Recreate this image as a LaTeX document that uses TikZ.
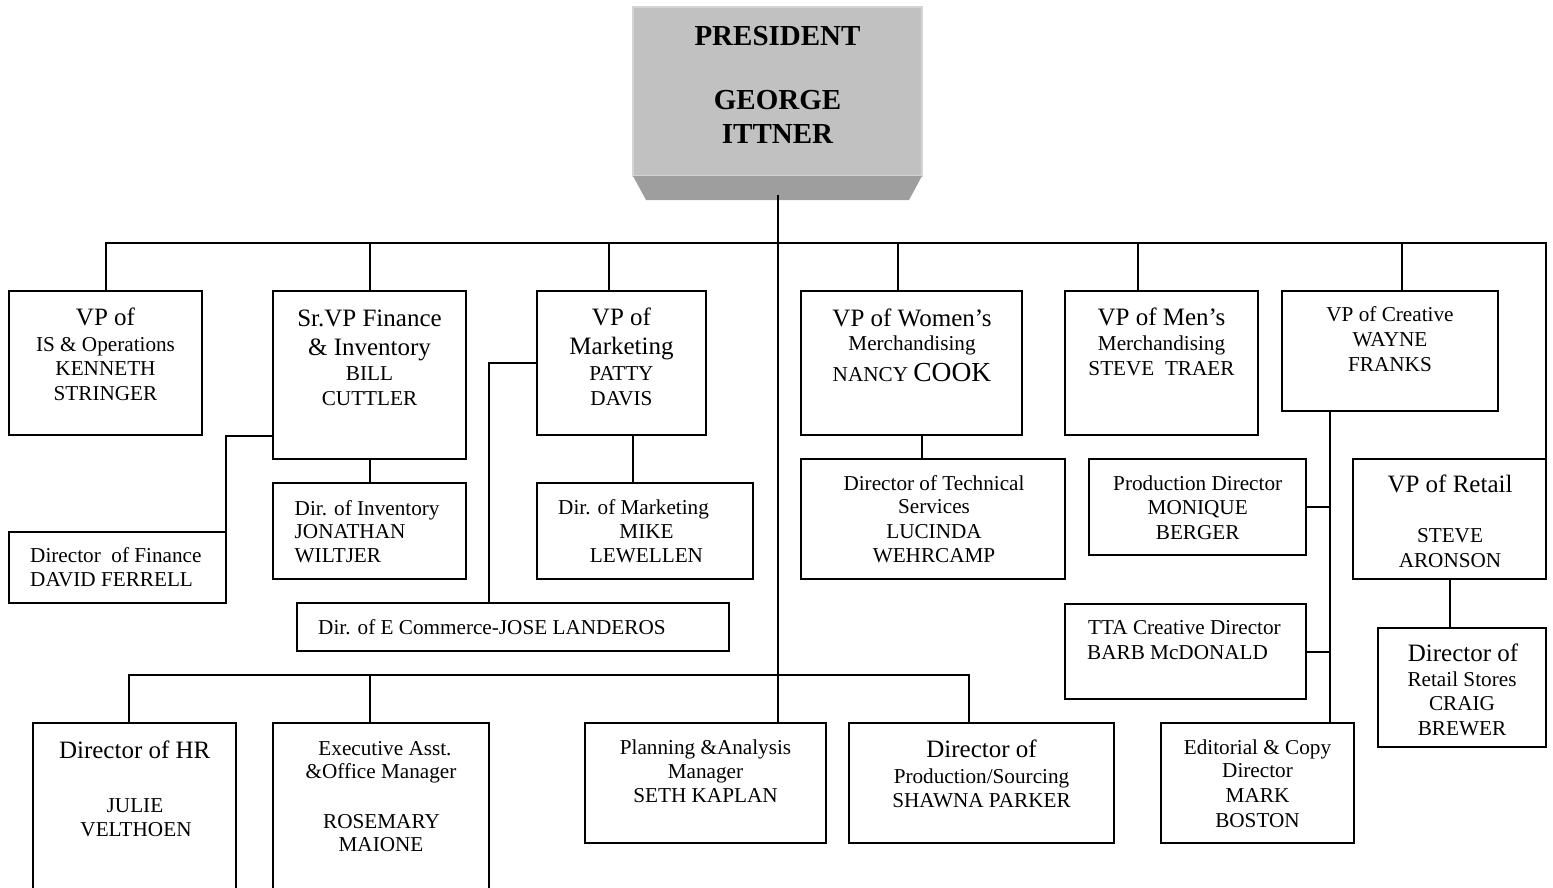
\documentclass[tikz,border=0pt]{standalone}
\usepackage{fontspec}
\setmainfont{Liberation Serif}
\definecolor{facegray}{RGB}{193,193,193}
\definecolor{edgegray}{RGB}{212,212,212}
\definecolor{bevelgray}{RGB}{158,158,158}
\tikzset{
  box/.style={draw=black, line width=2pt, inner sep=0pt, outer sep=0pt, anchor=north west},
  conn/.style={draw=black, line width=2pt},
  nrm/.style={font=\fontsize{21.2}{25}\selectfont, anchor=base, inner sep=0pt},
  nrmw/.style={nrm, anchor=base west},
  lrg/.style={font=\fontsize{25}{29}\selectfont, anchor=base, inner sep=0pt},
  bld/.style={font=\fontsize{29}{33}\selectfont\bfseries, anchor=base, inner sep=0pt},
}
\begin{document}
\begin{tikzpicture}[x=1pt, y=-1pt]
\useasboundingbox (0,0) rectangle (1553,888);
\clip (0,0) rectangle (1553,888);

% ---------- President ----------
\node[box, draw=edgegray, fill=facegray, line width=1.5pt,
      minimum width=289pt, minimum height=169pt] (pres) at (633,7) {};
\fill[bevelgray] (pres.south west) -- (pres.south east)
  -- ([shift={(-13pt,-24pt)}]pres.south east)
  -- ([shift={(13pt,-24pt)}]pres.south west) -- cycle;
\node[bld] (pres-1) at (777.5,45.7) {PRESIDENT};
\node[bld] (pres-2) at (777.5,110) {GEORGE};
\node[bld] (pres-3) at (777.5,144) {ITTNER};

% ---------- Boxes ----------
\node[box, minimum width=193pt, minimum height=144pt] (vpis)   at (9,291)    {};
\node[box, minimum width=193pt, minimum height=168pt] (srvp)   at (273,291)  {};
\node[box, minimum width=217pt, minimum height=71pt]  (fin)    at (9,532)    {};
\node[box, minimum width=193pt, minimum height=96pt]  (inv)    at (273,483)  {};
\node[box, minimum width=169pt, minimum height=144pt] (vpmkt)  at (537,291)  {};
\node[box, minimum width=216pt, minimum height=96pt]  (dmkt)   at (537,483)  {};
\node[box, minimum width=432pt, minimum height=48pt]  (ecom)   at (297,603)  {};
\node[box, minimum width=221pt, minimum height=144pt] (vpw)    at (801,291)  {};
\node[box, minimum width=264pt, minimum height=120pt] (tech)   at (801,459)  {};
\node[box, minimum width=193pt, minimum height=144pt] (vpm)    at (1065,291) {};
\node[box, minimum width=216pt, minimum height=120pt] (vpc)    at (1282,291) {};
\node[box, minimum width=217pt, minimum height=96pt]  (prod)   at (1089,459) {};
\node[box, minimum width=241pt, minimum height=95pt]  (tta)    at (1065,604) {};
\node[box, minimum width=193pt, minimum height=120pt] (edit)   at (1161,723) {};
\node[box, minimum width=193pt, minimum height=120pt] (vpr)    at (1353,459) {};
\node[box, minimum width=168pt, minimum height=119pt] (rstore) at (1378,628) {};
\node[box, minimum width=203pt, minimum height=180pt] (hr)     at (33,723)   {};
\node[box, minimum width=216pt, minimum height=180pt] (exec)   at (273,723)  {};
\node[box, minimum width=241pt, minimum height=120pt] (plan)   at (585,723)  {};
\node[box, minimum width=265pt, minimum height=120pt] (src)    at (849,723)  {};

% ---------- Connectors ----------
\coordinate (bus) at (0,243);
\coordinate (bus2) at (0,675);
% spine from the president down to planning
\draw[conn] ([yshift=-19pt]pres.south) -- (pres.south |- plan.north);
% top bus, left drop to the right edge of VP of Retail
\draw[conn] (vpis.north) -- (vpis.north |- bus) -| (vpr.north east);
\draw[conn] (srvp.north) -- (srvp.north |- bus);
\draw[conn] ([xshift=72pt]vpmkt.north west) -- ([xshift=72pt]vpmkt.north west |- bus);
\draw[conn] ([xshift=97pt]vpw.north west) -- ([xshift=97pt]vpw.north west |- bus);
\draw[conn] ([xshift=73pt]vpm.north west) -- ([xshift=73pt]vpm.north west |- bus);
\draw[conn] ([xshift=120pt]vpc.north west) -- ([xshift=120pt]vpc.north west |- bus);
% finance and inventory
\draw[conn] (srvp.south) -- (inv.north);
\draw[conn] ([yshift=23pt]srvp.south west) -| (fin.north east);
% marketing
\draw[conn] ([xshift=96pt]vpmkt.south west) -- ([xshift=96pt]vpmkt.south west |- dmkt.north);
\draw[conn] ([yshift=-72pt]vpmkt.north west) -| ([xshift=192pt]ecom.north west);
% women's merchandising
\draw[conn] ([xshift=121pt]vpw.south west) -- ([xshift=121pt]vpw.south west |- tech.north);
% creative
\coordinate (cspine) at ([xshift=48pt]vpc.south west);
\draw[conn] (cspine) -- (cspine |- edit.north);
\draw[conn] (prod.east) -- (prod.east -| cspine);
\draw[conn] (tta.east) -- (tta.east -| cspine);
% retail
\draw[conn] (vpr.south) -- (vpr.south |- rstore.north);
% bottom bus
\draw[conn] ([xshift=96pt]hr.north west) -- ([xshift=96pt]hr.north west |- bus2)
  -| ([xshift=120pt]src.north west);
\draw[conn] ([xshift=97pt]exec.north west) -- ([xshift=97pt]exec.north west |- bus2);

% ---------- Texts ----------
\node[lrg] (vpis-1) at (105.5,325.7) {VP of};
\node[nrm] (vpis-2) at (105.5,351.7) {IS \& Operations};
\node[nrm] (vpis-3) at (105.5,375.7) {KENNETH};
\node[nrm] (vpis-4) at (105.5,400) {STRINGER};

\node[lrg] (srvp-1) at (369.5,326.7) {Sr.VP Finance};
\node[lrg] (srvp-2) at (369.5,355) {\& Inventory};
\node[nrm] (srvp-3) at (369.5,380) {BILL};
\node[nrm] (srvp-4) at (369.5,405) {CUTTLER};

\node[nrmw] (fin-1) at (30,562) {Director\ \ of Finance};
\node[nrmw] (fin-2) at (30,586.7) {DAVID FERRELL};

\node[nrmw] (inv-1) at (294.5,515) {Dir. of Inventory};
\node[nrmw] (inv-2) at (294.5,538) {JONATHAN};
\node[nrmw] (inv-3) at (294.5,562.7) {WILTJER};

\node[lrg] (vpmkt-1) at (621.5,325.7) {VP of};
\node[lrg] (vpmkt-2) at (621.5,354) {Marketing};
\node[nrm] (vpmkt-3) at (621.5,380) {PATTY};
\node[nrm] (vpmkt-4) at (621.5,405) {DAVIS};

\node[nrmw] (dmkt-1) at (558,514) {Dir. of Marketing};
\node[nrm] (dmkt-2) at (646.5,538) {MIKE};
\node[nrm] (dmkt-3) at (646.5,562) {LEWELLEN};

\node[nrmw] (ecom-1) at (318,634) {Dir. of E Commerce-JOSE LANDEROS};

\node[lrg] (vpw-1) at (912,326) {VP of Women’s};
\node[nrm] (vpw-2) at (912,350.7) {Merchandising};
\node[nrm] (vpw-3) at (912,381.7) {NANCY {\fontsize{27.5}{30}\selectfont COOK}};

\node[nrm] (tech-1) at (934,490) {Director of Technical};
\node[nrm] (tech-2) at (934,513) {Services};
\node[nrm] (tech-3) at (934,538) {LUCINDA};
\node[nrm] (tech-4) at (934,562.7) {WEHRCAMP};

\node[lrg] (vpm-1) at (1161.5,325) {VP of Men’s};
\node[nrm] (vpm-2) at (1161.5,350.7) {Merchandising};
\node[nrm] (vpm-3) at (1161.5,375) {STEVE\ \ TRAER};

\node[nrm] (vpc-1) at (1390,321.7) {VP of Creative};
\node[nrm] (vpc-2) at (1390,346.7) {WAYNE};
\node[nrm] (vpc-3) at (1390,371.7) {FRANKS};

\node[nrm] (prod-1) at (1197.7,490.7) {Production Director};
\node[nrm] (prod-2) at (1197.7,514) {MONIQUE};
\node[nrm] (prod-3) at (1197.7,539) {BERGER};

\node[nrmw] (tta-1) at (1088,634) {TTA Creative Director};
\node[nrmw] (tta-2) at (1087,659) {BARB McDONALD};

\node[lrg] (vpr-1) at (1450,492.3) {VP of Retail};
\node[nrm] (vpr-2) at (1450,542.7) {STEVE};
\node[nrm] (vpr-3) at (1450,567.7) {ARONSON};

\node[lrg] (rstore-1) at (1463,661.7) {Director of};
\node[nrm] (rstore-2) at (1462,686.7) {Retail Stores};
\node[nrm] (rstore-3) at (1462,710.7) {CRAIG};
\node[nrm] (rstore-4) at (1462,735.7) {BREWER};

\node[nrm] (edit-1) at (1257.5,754) {Editorial \& Copy};
\node[nrm] (edit-2) at (1257.5,777.7) {Director};
\node[nrm] (edit-3) at (1257.5,802.7) {MARK};
\node[nrm] (edit-4) at (1257.5,827.3) {BOSTON};

\node[lrg] (hr-1) at (134.7,758) {Director of HR};
\node[nrm] (hr-2) at (135,812.7) {JULIE};
\node[nrm] (hr-3) at (136,836.7) {VELTHOEN};

\node[nrm] (exec-1) at (385,755) {Executive Asst.};
\node[nrm] (exec-2) at (381,778.3) {\&Office Manager};
\node[nrm] (exec-3) at (381.5,828.3) {ROSEMARY};
\node[nrm] (exec-4) at (381,851.7) {MAIONE};

\node[nrm] (plan-1) at (705.5,754.3) {Planning \&Analysis};
\node[nrm] (plan-2) at (705.5,778.3) {Manager};
\node[nrm] (plan-3) at (705.5,802.7) {SETH KAPLAN};

\node[lrg] (src-1) at (981.5,757.7) {Director of};
\node[nrm] (src-2) at (981.5,783.3) {Production/Sourcing};
\node[nrm] (src-3) at (981.5,807.7) {SHAWNA PARKER};
\end{tikzpicture}
\end{document}
